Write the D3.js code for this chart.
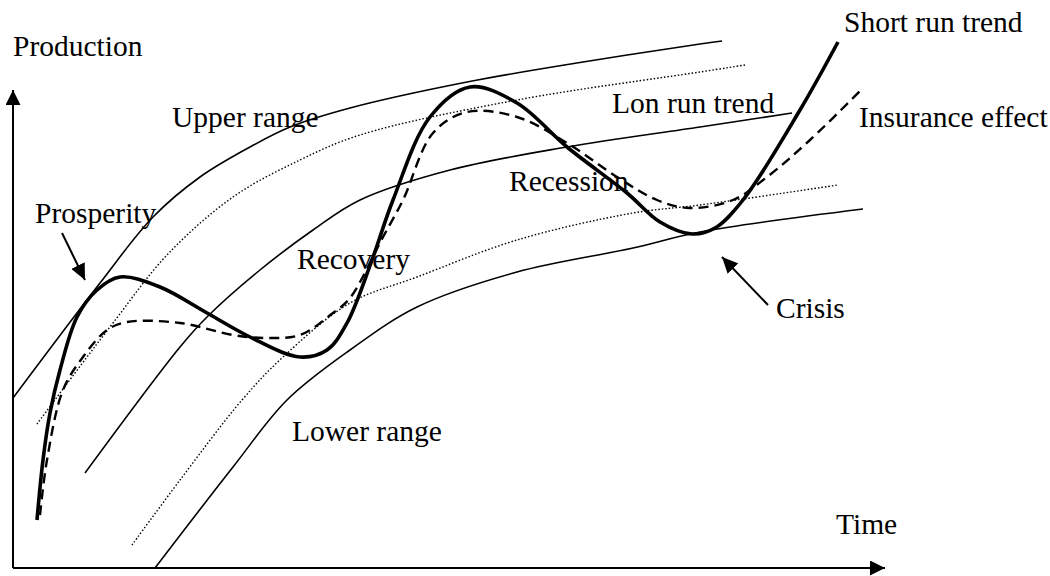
<!DOCTYPE html>
<html>
<head>
<meta charset="utf-8">
<script src="https://cdn.jsdelivr.net/npm/d3@7"></script>
<style>
  body { margin: 0; background: #fff; }
</style>
</head>
<body>
<script>
// time (x) and production (y) in chart units, origin at the axes corner
const upperRange = [[0,170],[87,285],[140,351],[187,391],[237,421],[277,441],[337,460],[454,486],[570,506],[687,524],[709,527]];
const upperDotted = [[24,144],[62,195],[100,245],[154,313],[220,371],[287,408],[347,433],[504,468],[687,496],[732,503]];
const longRunTrend = [[72,95],[167,221],[194,251],[247,298],[300,338],[347,368],[437,398],[554,421],[687,441],[779,455]];
const lowerDotted = [[119,23],[167,88],[229,168],[270,211],[337,265],[404,291],[504,328],[620,355],[687,363],[825,383]];
const lowerRange = [[142,0],[220,101],[274,168],[337,218],[404,261],[504,296],[620,320],[687,336],[850,359]];
const shortRunTrend = [[24,48],[30,108],[37,155],[47,198],[64,251],[84,278],[107,291],[147,281],[194,255],[237,231],
  [287,211],[314,218],[334,245],[359,308],[380,368],[417,451],[457,481],[504,465],[554,421],[614,375],[647,346],
  [679,334],[702,340],[730,368],[787,458],[825,526]];
const insuranceEffect = [[27,53],[34,108],[50,178],[70,211],[94,238],[114,246],[167,245],[220,233],[254,230],[287,233],
  [320,255],[337,270],[370,331],[390,368],[420,435],[454,456],[504,451],[554,425],[604,391],[644,368],[677,360],
  [720,368],[754,391],[797,428],[850,480]];

const labels = [
  ["Production", 0, 512], ["Upper range", 159, 441], ["Lon run trend", 599, 455],
  ["Short run trend", 831, 536], ["Insurance effect", 846, 441], ["Recession", 496, 377],
  ["Prosperity", 22, 345], ["Recovery", 284, 299], ["Crisis", 763, 250],
  ["Lower range", 279, 127], ["Time", 823, 34]
];
const pointers = [[[49,335],[72,288]], [[755,263],[709,311]]];

const w = 1050, h = 576;
const svg = d3.select("body").append("svg").attr("width", w).attr("height", h);

const x = d3.scaleLinear().domain([0, 872]).range([13, 885]);
const y = d3.scaleLinear().domain([0, 478]).range([568, 90]);

const defs = svg.append("defs");
function marker(id, len, wid) {
  defs.append("marker")
    .attr("id", id)
    .attr("markerUnits", "userSpaceOnUse")
    .attr("viewBox", `0 0 ${len} ${wid}`)
    .attr("refX", len).attr("refY", wid / 2)
    .attr("markerWidth", len).attr("markerHeight", wid)
    .attr("orient", "auto")
    .append("path")
    .attr("d", `M0,0L${len},${wid / 2}L0,${wid}Z`)
    .attr("fill", "#000");
}
marker("axisHead", 15, 15);
marker("ptrHead", 16, 15);

// axes
svg.append("line")
  .attr("x1", x(0)).attr("y1", y(0)).attr("x2", x(0)).attr("y2", y(478))
  .attr("stroke", "#000").attr("stroke-width", 2).attr("marker-end", "url(#axisHead)");
svg.append("line")
  .attr("x1", x(0)).attr("y1", y(0)).attr("x2", x(872)).attr("y2", y(0))
  .attr("stroke", "#000").attr("stroke-width", 2).attr("marker-end", "url(#axisHead)");

const line = d3.line()
  .x(d => x(d[0]))
  .y(d => y(d[1]))
  .curve(d3.curveCatmullRom.alpha(0.5));

const curves = [
  { data: upperRange, width: 1.6, dash: null },
  { data: longRunTrend, width: 1.6, dash: null },
  { data: lowerRange, width: 1.6, dash: null },
  { data: upperDotted, width: 1.4, dash: "1.5,2" },
  { data: lowerDotted, width: 1.4, dash: "1.5,2" },
  { data: insuranceEffect, width: 2.4, dash: "10,6" },
  { data: shortRunTrend, width: 3.6, dash: null }
];

svg.selectAll("path.curve")
  .data(curves)
  .join("path")
  .attr("class", "curve")
  .attr("d", d => line(d.data))
  .attr("fill", "none")
  .attr("stroke", "#000")
  .attr("stroke-width", d => d.width)
  .attr("stroke-dasharray", d => d.dash);

svg.selectAll("line.ptr")
  .data(pointers)
  .join("line")
  .attr("class", "ptr")
  .attr("x1", d => x(d[0][0])).attr("y1", d => y(d[0][1]))
  .attr("x2", d => x(d[1][0])).attr("y2", d => y(d[1][1]))
  .attr("stroke", "#000").attr("stroke-width", 2)
  .attr("marker-end", "url(#ptrHead)");

svg.selectAll("text.lbl")
  .data(labels)
  .join("text")
  .attr("class", "lbl")
  .attr("x", d => x(d[1]))
  .attr("y", d => y(d[2]))
  .attr("font-family", "'Liberation Serif', 'DejaVu Serif', serif")
  .attr("font-size", 29.5)
  .attr("fill", "#000")
  .text(d => d[0]);
</script>
</body>
</html>
